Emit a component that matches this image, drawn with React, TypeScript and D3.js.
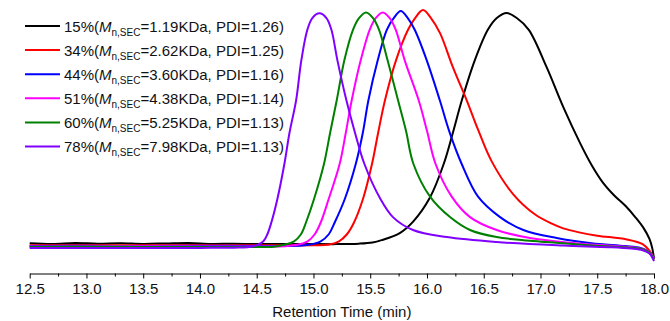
import { useEffect, useRef } from "react";
import * as d3 from "d3";

// SEC traces, [retention time (min), detector signal (a.u.)]
const black15 = [
  [12.5, 1.2], [12.7, 0.9], [12.9, 1.3], [13.1, 1.0], [13.3, 1.2], [13.5, 0.9], [13.7, 1.1],
  [13.9, 1.3], [14.1, 0.9], [14.3, 1.0], [14.6, 0.8], [14.9, 0.9], [15.2, 0.8], [15.4, 1.0],
  [15.52, 1.5], [15.6, 2.5], [15.76, 5.5], [15.88, 10.5], [16.025, 20.5], [16.148, 35], [16.227, 48],
  [16.307, 62], [16.421, 79], [16.536, 92], [16.615, 97], [16.703, 99.1], [16.791, 97],
  [16.897, 92], [17.055, 76], [17.202, 59], [17.349, 43.8], [17.45, 34.5], [17.55, 27],
  [17.65, 21.5], [17.75, 17], [17.84, 12], [17.91, 7.5], [17.96, 3], [17.985, -1], [18.0, -5.5],
];
const red34 = [
  [12.5, 0.3], [13.0, 0.4], [13.5, 0.3], [14.0, 0.4], [14.5, 0.3], [15.0, 0.3], [15.128, 0.5],
  [15.225, 2], [15.295, 5], [15.357, 10], [15.436, 20], [15.516, 35], [15.569, 48], [15.63, 62],
  [15.727, 79], [15.833, 92], [15.895, 97], [15.965, 100.4], [16.035, 97], [16.115, 90.6],
  [16.229, 76], [16.35, 62], [16.45, 49.5], [16.57, 36], [16.76, 22], [16.95, 13.5],
  [17.1, 9.5], [17.2, 7.5], [17.34, 5.8], [17.5, 4.4], [17.76, 2.8], [17.9, 0.8], [17.96, -2],
  [18.0, -5.3],
];
const blue44 = [
  [12.5, 0], [13.0, 0.1], [13.5, 0], [14.0, 0.1], [14.5, 0], [14.85, 0.1], [14.958, 0.5],
  [15.064, 2], [15.135, 5], [15.187, 10], [15.276, 20], [15.373, 35], [15.434, 48], [15.484, 62],
  [15.566, 79], [15.646, 92], [15.707, 97], [15.769, 100], [15.831, 97], [15.892, 92],
  [15.998, 79], [16.113, 62], [16.195, 49], [16.305, 35], [16.45, 21], [16.644, 12.3],
  [16.849, 6.8], [17.143, 3.4], [17.45, 1.2], [17.75, 0], [17.88, -0.8], [17.94, -2], [18.0, -5.2],
];
const magenta51 = [
  [12.5, -0.2], [13.0, -0.2], [13.5, -0.1], [14.0, -0.2], [14.5, -0.2], [14.75, -0.1],
  [14.852, 0.5], [14.949, 2], [15.011, 5], [15.064, 10], [15.134, 20], [15.231, 35], [15.284, 48],
  [15.337, 62], [15.416, 79], [15.495, 92], [15.548, 97], [15.61, 99.4], [15.672, 97],
  [15.725, 92], [15.804, 79], [15.927, 62], [16.0, 49], [16.075, 35], [16.218, 21],
  [16.379, 12.3], [16.614, 6.8], [16.907, 3.4], [17.286, 1.3], [17.65, 0], [17.85, -0.8],
  [17.93, -1.8], [17.97, -3], [18.0, -5.5],
];
const green60 = [
  [12.5, -0.4], [13.0, -0.3], [13.5, -0.4], [14.0, -0.4], [14.4, -0.4], [14.65, -0.3],
  [14.74, 0.5], [14.829, 2], [14.89, 5], [14.934, 10], [15.005, 20], [15.093, 35], [15.146, 48],
  [15.205, 62], [15.272, 79], [15.348, 92], [15.401, 97], [15.463, 99.4], [15.525, 97],
  [15.578, 92], [15.653, 79], [15.745, 62], [15.815, 49], [15.88, 35], [16.027, 21],
  [16.203, 12.3], [16.379, 6.8], [16.614, 3.8], [17.055, 1.7], [17.45, 0.2], [17.8, -0.8],
  [17.9, -1.5], [17.96, -2.8], [18.0, -5.8],
];
const purple78 = [
  [12.5, -0.9], [13.0, -0.8], [13.5, -0.9], [14.0, -0.8], [14.3, -0.7], [14.42, -0.5],
  [14.506, 0.5], [14.559, 2], [14.594, 5], [14.629, 10], [14.682, 20], [14.744, 35],
  [14.788, 48], [14.847, 62], [14.893, 79], [14.946, 92], [14.99, 97], [15.052, 99],
  [15.114, 97], [15.158, 92], [15.211, 79], [15.29, 62], [15.367, 48], [15.448, 35],
  [15.59, 20], [15.7, 12.3], [15.877, 6.8], [16.174, 3.8], [16.614, 1.7], [17.2, 0.2],
  [17.6, -0.5], [17.8, -1.1], [17.9, -1.8], [17.96, -3.2], [18.0, -6.4],
];

const conversions = ["15%", "34%", "44%", "51%", "60%", "78%"];
const mnValues = ["1.19", "2.62", "3.60", "4.38", "5.25", "7.98"];
const pdiValues = ["1.26", "1.25", "1.16", "1.14", "1.13", "1.13"];
const colours = ["#000000", "#ff0000", "#0000ff", "#ff00ff", "#008000", "#8000ff"];
const traces = [black15, red34, blue44, magenta51, green60, purple78];

const FONT = "'Liberation Sans', Arial, sans-serif";
const W = 670;
const H = 321;

const App = () => {
  const axisRef = useRef(null);

  const xScale = d3.scaleLinear().domain([12.5, 18.0]).range([29.7, 654]);
  const yScale = d3.scaleLinear().domain([0, 100]).range([246, 11]);

  const line = d3
    .line()
    .x((d) => xScale(d[0]))
    .y((d) => yScale(d[1]))
    .curve(d3.curveCatmullRom.alpha(0.5));

  useEffect(() => {
    const g = d3.select(axisRef.current);
    g.selectAll("*").remove();

    // minor ticks first, then major ones with labels
    const minor = d3.range(12.75, 18, 0.5);
    g.append("g")
      .call(d3.axisBottom(xScale).tickValues(minor).tickSize(3).tickFormat(() => ""))
      .call((s) => s.select(".domain").remove());

    const major = g
      .append("g")
      .call(
        d3
          .axisBottom(xScale)
          .tickValues(d3.range(12.5, 18.01, 0.5))
          .tickSize(5)
          .tickSizeOuter(0)
          .tickFormat(d3.format(".1f"))
      );
    major.selectAll(".tick text")
      .attr("y", 10)
      .attr("dy", "0.71em")
      .attr("font-size", 15)
      .attr("font-family", FONT)
      .attr("fill", "#111");
    g.selectAll("line").attr("stroke", "#000");
    g.selectAll(".domain").attr("stroke", "#000");
  }, []);

  return (
    <svg
      width={W}
      height={H}
      style={{ position: "absolute", left: 0, top: 0, background: "#fff" }}
    >
      <g>
        {traces.map((d, i) => (
          <path
            key={i}
            d={line(d)}
            fill="none"
            stroke={colours[i]}
            strokeWidth={2}
            strokeLinejoin="round"
          />
        ))}
      </g>

      <g ref={axisRef} transform="translate(0,273.5)" />
      <text
        x={(xScale.range()[0] + xScale.range()[1]) / 2}
        y={317}
        textAnchor="middle"
        fontSize={15}
        fontFamily={FONT}
        fill="#111"
      >
        Retention Time (min)
      </text>

      <g fontFamily={FONT} fontSize={15} fill="#111">
        {conversions.map((c, i) => {
          const y = 26 + i * 24.1;
          return (
            <g key={c}>
              <line x1={25} x2={60} y1={y} y2={y} stroke={colours[i]} strokeWidth={2} />
              <text x={64} y={y + 5.7}>
                {c}(<tspan fontStyle="italic">M</tspan>
                <tspan fontSize={10} dy={4}>n,SEC</tspan>
                <tspan dy={-4}>={mnValues[i]}KDa, PDI={pdiValues[i]})</tspan>
              </text>
            </g>
          );
        })}
      </g>
    </svg>
  );
};

export default App;
